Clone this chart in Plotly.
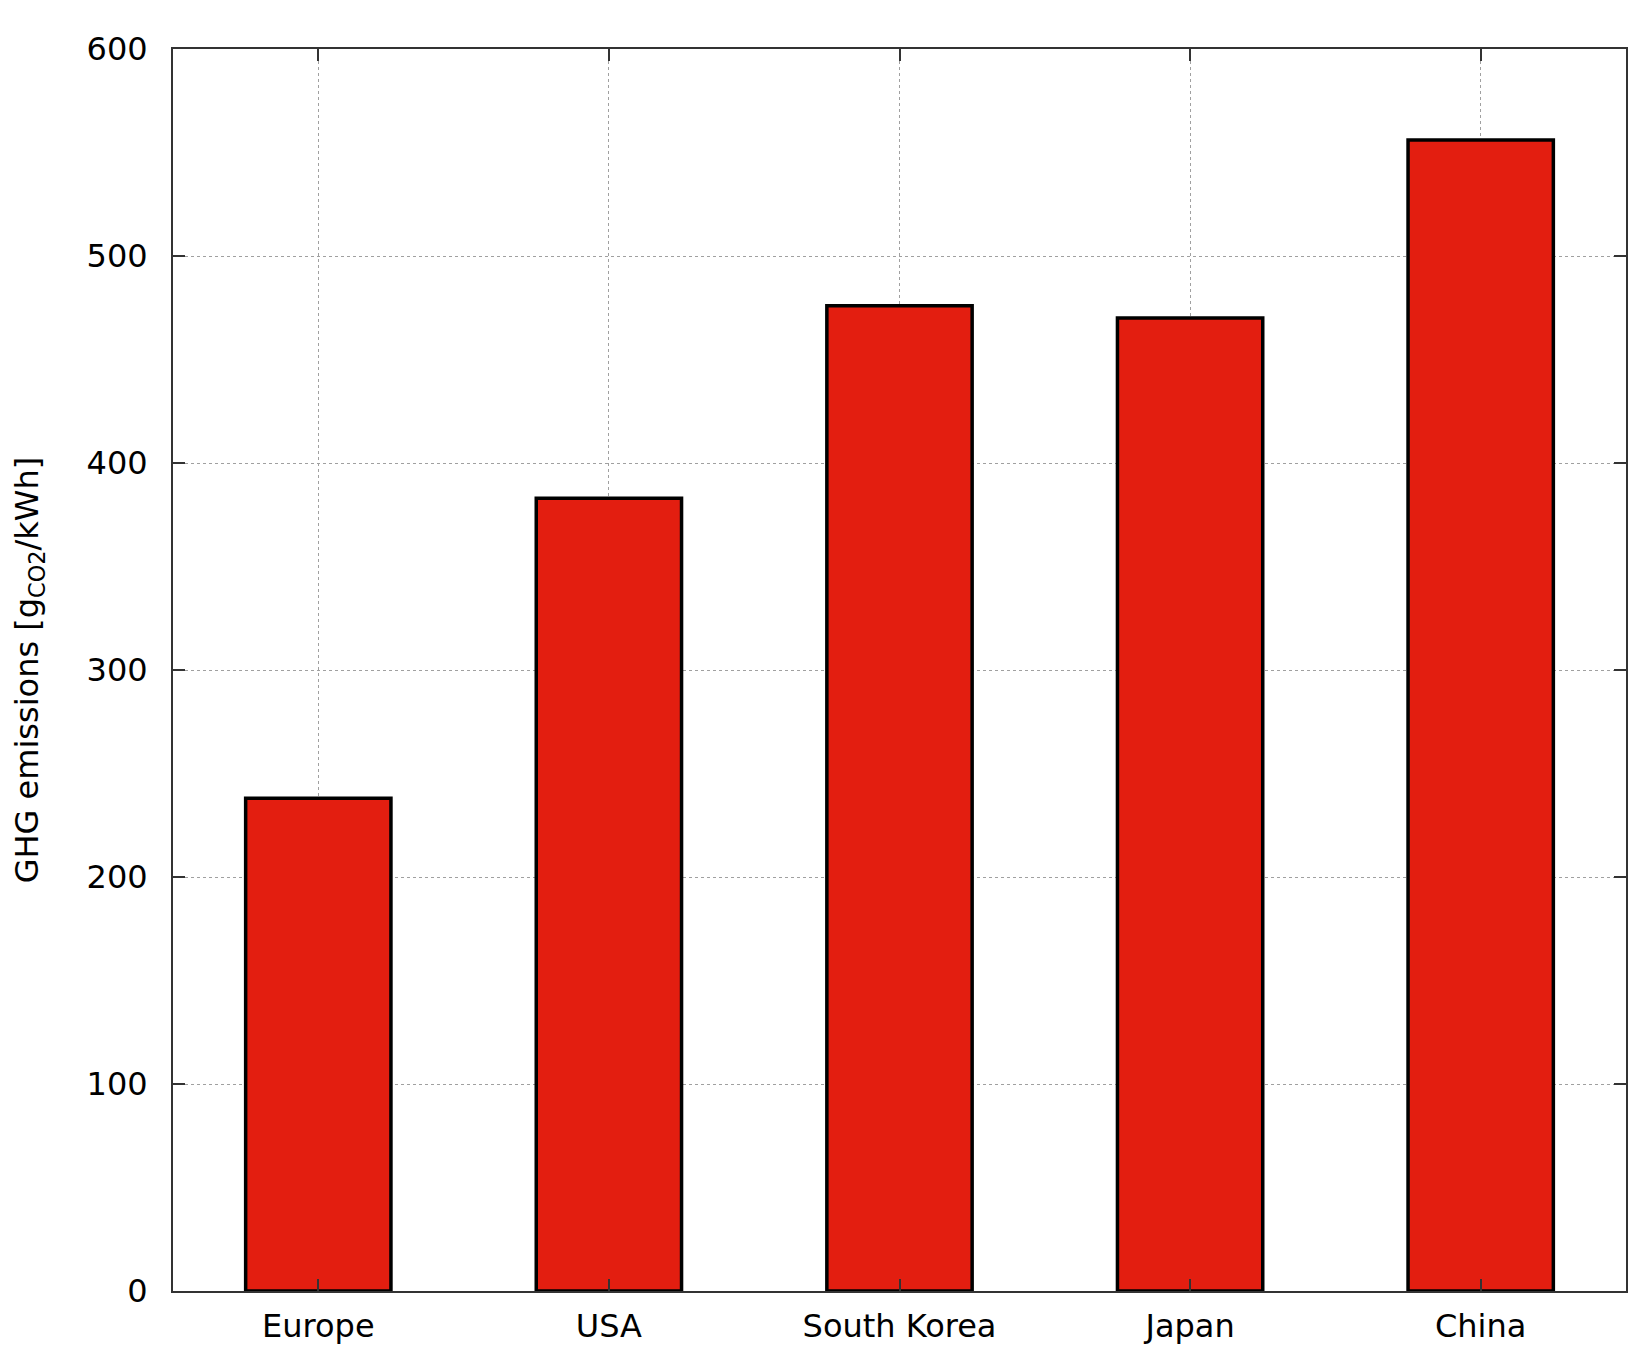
import plotly.graph_objects as go

categories = ["Europe", "USA", "South Korea", "Japan", "China"]
emissions = [238, 383, 476, 470, 556]
y_ticks = [0, 100, 200, 300, 400, 500, 600]

FONT = "DejaVu Sans"
FS = 32

fig = go.Figure()
fig.add_trace(go.Bar(
    x=categories,
    y=emissions,
    width=0.5,
    marker=dict(color="#E31E10", line=dict(color="black", width=3.5)),
))

fig.update_layout(
    width=1651, height=1360,
    margin=dict(l=165, r=33, t=41, b=77),
    plot_bgcolor="white", paper_bgcolor="white",
    showlegend=False,
    font=dict(family=FONT, size=FS, color="black"),
)
fig.update_xaxes(
    range=[-0.5, 4.5],
    showline=True, linecolor="#333333", linewidth=2, mirror="ticks",
    ticks="inside", ticklen=12, tickwidth=2, tickcolor="#333333",
    showgrid=True, gridcolor="#a0a0a0", griddash="dot", gridwidth=1,
    tickfont=dict(family=FONT, size=FS, color="black"),
    ticklabelstandoff=6,
)
fig.update_yaxes(
    range=[0, 600],
    tickvals=y_ticks,
    showline=True, linecolor="#333333", linewidth=2, mirror="ticks",
    ticks="inside", ticklen=12, tickwidth=2, tickcolor="#333333",
    showgrid=True, gridcolor="#a0a0a0", griddash="dot", gridwidth=1,
    zeroline=False,
    tickfont=dict(family=FONT, size=FS, color="black"),
    ticklabelstandoff=17,
    title=dict(text="GHG emissions [g<sub>CO2</sub>/kWh]",
               font=dict(family=FONT, size=FS, color="black"), standoff=43),
)

fig.write_html("out.html")
